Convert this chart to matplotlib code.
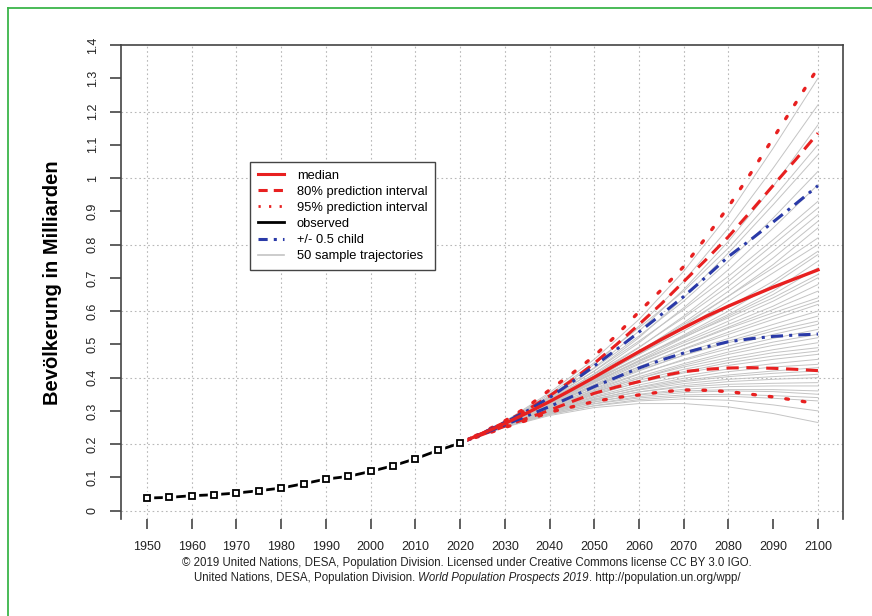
import matplotlib
matplotlib.use("Agg")
import matplotlib.pyplot as plt
from matplotlib.lines import Line2D

plt.rcParams['font.family'] = ['Liberation Sans', 'DejaVu Sans']

# observed population (billions), 5-year steps
obs_years = [1950, 1955, 1960, 1965, 1970, 1975, 1980, 1985, 1990, 1995, 2000, 2005, 2010, 2015, 2020]
obs_pop = [0.038, 0.040, 0.045, 0.048, 0.053, 0.060, 0.068, 0.081, 0.095, 0.103, 0.118, 0.135, 0.156, 0.181, 0.203]

# projections
proj_years = [2020, 2025, 2030, 2035, 2040, 2045, 2050, 2055, 2060, 2065, 2070, 2075, 2080, 2085, 2090, 2095, 2100]
median = [.204, .232, .262, .294, .328, .364, .401, .440, .478, .515, .550, .584, .615, .644, .672, .698, .724]
pi80_high = [.204, .233, .266, .303, .345, .392, .443, .500, .560, .622, .689, .755, .824, .900, .978, 1.055, 1.135]
pi80_low = [.204, .229, .254, .278, .302, .328, .353, .372, .388, .405, .418, .425, .429, .430, .428, .425, .421]
pi95_high = [.204, .235, .270, .312, .363, .412, .465, .528, .598, .664, .734, .822, .914, 1.015, 1.120, 1.225, 1.331]
pi95_low = [.204, .227, .250, .272, .296, .312, .328, .340, .348, .357, .363, .362, .358, .350, .342, .332, .321]
child_high = [.204, .233, .265, .300, .340, .386, .435, .485, .537, .590, .644, .703, .764, .815, .868, .922, .977]
child_low = [.204, .230, .258, .285, .313, .343, .373, .401, .429, .453, .474, .492, .508, .517, .524, .528, .531]

# 50 sample trajectories, decade steps
traj_years = [2020, 2030, 2040, 2050, 2060, 2070, 2080, 2090, 2100]
trajectories = [
    [.204, .268, .355, .455, .575, .720, .890, 1.09, 1.30],
    [.204, .266, .345, .440, .555, .690, .850, 1.03, 1.22],
    [.204, .265, .340, .430, .540, .665, .810, .975, 1.16],
    [.204, .267, .350, .445, .550, .660, .790, .940, 1.10],
    [.204, .264, .335, .420, .520, .640, .775, .920, 1.07],
    [.204, .266, .342, .428, .525, .630, .750, .880, 1.02],
    [.204, .263, .332, .412, .505, .610, .725, .850, .98],
    [.204, .265, .338, .420, .510, .605, .705, .815, .93],
    [.204, .262, .328, .405, .490, .585, .690, .800, .91],
    [.204, .264, .334, .410, .492, .580, .675, .780, .89],
    [.204, .263, .330, .400, .478, .565, .660, .760, .87],
    [.204, .261, .325, .395, .472, .555, .645, .740, .85],
    [.204, .264, .333, .405, .480, .560, .645, .730, .82],
    [.204, .262, .327, .397, .470, .548, .630, .715, .80],
    [.204, .263, .330, .400, .470, .540, .612, .690, .78],
    [.204, .261, .324, .390, .458, .528, .600, .680, .77],
    [.204, .262, .326, .392, .460, .525, .590, .660, .75],
    [.204, .260, .320, .385, .452, .520, .585, .650, .73],
    [.204, .263, .328, .395, .460, .522, .580, .640, .71],
    [.204, .261, .323, .387, .450, .510, .570, .630, .70],
    [.204, .262, .325, .388, .448, .505, .560, .615, .68],
    [.204, .260, .318, .380, .440, .498, .552, .605, .66],
    [.204, .262, .324, .385, .443, .497, .548, .595, .64],
    [.204, .259, .316, .375, .432, .487, .537, .585, .63],
    [.204, .261, .320, .378, .433, .485, .530, .575, .62],
    [.204, .260, .318, .374, .427, .475, .518, .560, .60],
    [.204, .259, .314, .368, .420, .468, .510, .548, .585],
    [.204, .261, .319, .373, .423, .467, .505, .540, .57],
    [.204, .258, .311, .362, .410, .455, .495, .530, .56],
    [.204, .260, .315, .366, .412, .452, .487, .518, .545],
    [.204, .259, .312, .360, .403, .442, .477, .507, .53],
    [.204, .257, .308, .355, .398, .437, .470, .497, .52],
    [.204, .259, .311, .357, .398, .432, .460, .484, .505],
    [.204, .258, .308, .352, .392, .425, .452, .475, .49],
    [.204, .257, .305, .348, .386, .418, .445, .465, .48],
    [.204, .258, .307, .350, .385, .414, .437, .455, .47],
    [.204, .257, .304, .344, .378, .405, .426, .442, .455],
    [.204, .256, .301, .340, .372, .398, .418, .432, .44],
    [.204, .257, .303, .341, .370, .392, .408, .420, .43],
    [.204, .255, .298, .335, .365, .388, .403, .413, .42],
    [.204, .256, .300, .336, .363, .382, .395, .403, .41],
    [.204, .255, .297, .331, .357, .376, .388, .395, .40],
    [.204, .256, .299, .333, .357, .372, .380, .383, .385],
    [.204, .254, .295, .327, .350, .365, .373, .375, .375],
    [.204, .255, .296, .327, .348, .360, .364, .364, .36],
    [.204, .253, .292, .322, .343, .355, .360, .358, .35],
    [.204, .254, .293, .321, .339, .348, .350, .346, .34],
    [.204, .252, .289, .316, .334, .343, .344, .338, .33],
    [.204, .253, .290, .315, .330, .336, .332, .318, .30],
    [.204, .251, .286, .310, .322, .322, .312, .292, .265],
]

x_ticks = list(range(1950, 2101, 10))
x_grid = [1950, 1960, 1970, 1980, 1990, 2000, 2010, 2020, 2030, 2040, 2050, 2060, 2070, 2080, 2100]
y_ticks = [0, 0.1, 0.2, 0.3, 0.4, 0.5, 0.6, 0.7, 0.8, 0.9, 1, 1.1, 1.2, 1.3, 1.4]
y_labels = ["0", "0.1", "0.2", "0.3", "0.4", "0.5", "0.6", "0.7", "0.8", "0.9", "1", "1.1", "1.2", "1.3", "1.4"]
y_grid = [0, 0.2, 0.4, 0.6, 0.8, 1.0, 1.2]

footer1 = "© 2019 United Nations, DESA, Population Division. Licensed under Creative Commons license CC BY 3.0 IGO."
footer2 = ["United Nations, DESA, Population Division. ", "World Population Prospects 2019",
           ". http://population.un.org/wpp/"]

RED = "#e82020"
BLUE = "#2a3aa8"
GRAY = "#c4c4c4"
DOTS = (0, (0.8, 4.2))
DASH = (0, (4, 2.5))
DASHDOT = (0, (4, 2, 1, 2))

fig = plt.figure(figsize=(8.72, 6.16), dpi=100)
ax = fig.add_axes([121 / 872, 1 - 519 / 616, (843 - 121) / 872, (519 - 45) / 616])
ax.set_xlim(1944.2, 2105.6)
ax.set_ylim(-0.025, 1.4)

# grid (no line at 2090 in the original)
for gx in x_grid:
    ax.axvline(gx, color="#b8b8b8", lw=0.8, ls=(0, (1.5, 2.5)), zorder=0)
for gy in y_grid:
    ax.axhline(gy, color="#b8b8b8", lw=0.8, ls=(0, (1.5, 2.5)), zorder=0)

for tr in trajectories:
    ax.plot(traj_years, tr, color=GRAY, lw=0.7, zorder=1)

ax.plot(proj_years, pi95_high, color=RED, lw=2.4, ls=DOTS, dash_capstyle="round", zorder=3)
ax.plot(proj_years, pi95_low, color=RED, lw=2.4, ls=DOTS, dash_capstyle="round", zorder=3)
ax.plot(proj_years, pi80_high, color=RED, lw=2.2, ls=DASH, zorder=3)
ax.plot(proj_years, pi80_low, color=RED, lw=2.2, ls=DASH, zorder=3)
ax.plot(proj_years, child_high, color=BLUE, lw=2.2, ls=DASHDOT, zorder=3)
ax.plot(proj_years, child_low, color=BLUE, lw=2.2, ls=DASHDOT, zorder=3)
ax.plot(proj_years, median, color=RED, lw=2.4, zorder=4)

# observed, R type="b" look
ax.plot(obs_years, obs_pop, color="black", lw=2.0, zorder=5)
ax.plot(obs_years, obs_pop, ls="none", marker="s", ms=9, mfc="white", mec="white", zorder=6)
ax.plot(obs_years, obs_pop, ls="none", marker="s", ms=4.5, mfc="white", mec="black", mew=1.3, zorder=7)

for side in ["left", "top", "right"]:
    ax.spines[side].set_color("#444444")
    ax.spines[side].set_linewidth(1.2)
ax.spines["bottom"].set_visible(False)

ax.set_xticks(x_ticks)
ax.set_xticklabels([str(v) for v in x_ticks], fontsize=9, color="#222222")
ax.set_yticks(y_ticks)
ax.set_yticklabels(y_labels, fontsize=9, color="#222222", rotation=90, va="center")
ax.tick_params(axis="x", length=7, width=1.2, color="#444444", pad=9)
ax.tick_params(axis="y", length=8, width=1.2, color="#444444", pad=8)

fig.text(52 / 872, 1 - 283 / 616, "Bevölkerung in Milliarden", rotation=90, ha="center", va="center",
         fontsize=14.5, fontweight="bold", color="black")

handles = [
    Line2D([], [], color=RED, lw=2.2),
    Line2D([], [], color=RED, lw=2.2, ls=(0, (3, 2))),
    Line2D([], [], color=RED, lw=2.0, ls=(0, (0.8, 3))),
    Line2D([], [], color="black", lw=2.0),
    Line2D([], [], color=BLUE, lw=2.2, ls=(0, (3, 2, 1, 2))),
    Line2D([], [], color=GRAY, lw=1.2),
]
labels = ["median", "80% prediction interval", "95% prediction interval", "observed",
          "+/- 0.5 child", "50 sample trajectories"]
leg = ax.legend(handles, labels, loc="upper left", bbox_to_anchor=(0.179, 0.753), borderaxespad=0,
                fontsize=9.3, handlelength=2.0, handletextpad=1.0, labelspacing=0.31,
                fancybox=False, framealpha=1, edgecolor="#444444", borderpad=0.6)
leg.get_frame().set_linewidth(1.0)

fig.text(467 / 872, 1 - 563 / 616, footer1, ha="center", va="center", fontsize=8.3, color="#222222")

# second footer line with italic title, laid out piece by piece
fig.canvas.draw()
renderer = fig.canvas.get_renderer()
styles = ["normal", "italic", "normal"]
parts = []
for txt, st in zip(footer2, styles):
    t = fig.text(0, 1 - 578 / 616, txt, ha="left", va="center", fontsize=8.3, style=st, color="#222222")
    parts.append(t)
widths = [p.get_window_extent(renderer).width for p in parts]
x0 = 467 - sum(widths) / 2
for p, w in zip(parts, widths):
    p.set_x(x0 / 872)
    x0 += w

# green frame (top and left)
fig.add_artist(Line2D([8 / 872, 1], [1 - 8 / 616, 1 - 8 / 616], transform=fig.transFigure, color="#3cb54a", lw=1.3))
fig.add_artist(Line2D([8 / 872, 8 / 872], [0, 1 - 8 / 616], transform=fig.transFigure, color="#3cb54a", lw=1.3))

fig.savefig("out.png", dpi=100, facecolor="white")
